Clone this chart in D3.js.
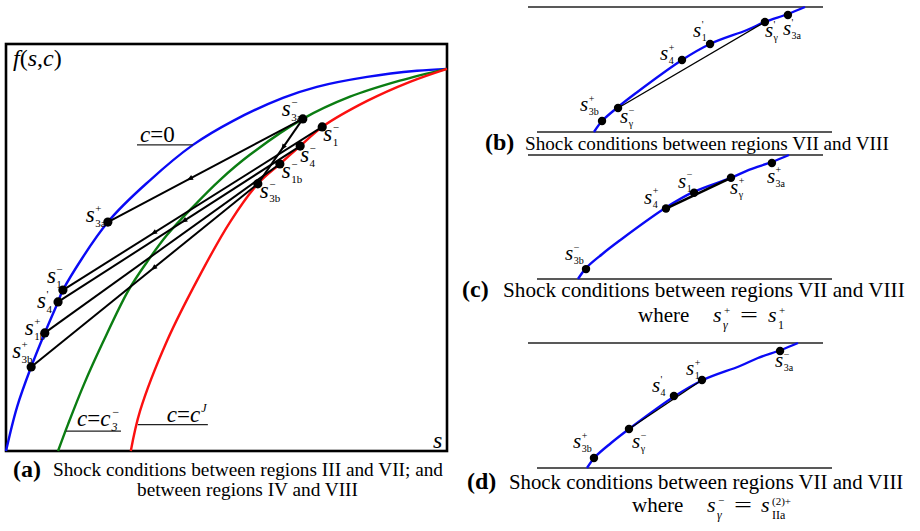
<!DOCTYPE html>
<html><head><meta charset="utf-8">
<script src="https://cdn.jsdelivr.net/npm/d3@7"></script>
<style>body{margin:0;background:#fff}svg{display:block}</style>
</head><body>
<svg id="c" width="920" height="531"></svg>
<script>
// ---------------- DATA ----------------
// Panel (a): fractional-flow curves f(s,c), s and f normalised to [0,1]
const curveC0 = [[0,0],[0.025,0.115],[0.057,0.220],[0.088,0.309],[0.118,0.390],[0.129,0.421],[0.231,0.599],[0.327,0.709],[0.424,0.801],[0.515,0.864],[0.628,0.924],[0.705,0.953],[0.819,0.979],[0.932,0.995],[1,1]];
const curveC3 = [[0.118,0],[0.141,0.071],[0.177,0.175],[0.220,0.285],[0.277,0.419],[0.320,0.495],[0.365,0.565],[0.424,0.639],[0.485,0.709],[0.553,0.775],[0.673,0.869],[0.780,0.927],[0.893,0.969],[1,1]];
const curveCJ = [[0.283,0],[0.304,0.105],[0.365,0.288],[0.440,0.461],[0.508,0.599],[0.571,0.699],[0.621,0.751],[0.667,0.798],[0.717,0.848],[0.819,0.916],[0.916,0.966],[1,1]];

// points of panel (a): id, superscript, subscript, s, f
const pointsA = [
  {id:"3a-", sup:"\u2212", sub:"3a", s:0.673, f:0.869},
  {id:"1-r", sup:"\u2212", sub:"1",  s:0.717, f:0.848},
  {id:"4-",  sup:"\u2212", sub:"4",  s:0.667, f:0.798},
  {id:"1b-", sup:"\u2212", sub:"1b", s:0.621, f:0.751},
  {id:"3b-", sup:"\u2212", sub:"3b", s:0.571, f:0.699},
  {id:"3a+", sup:"+", sub:"3a", s:0.231, f:0.599},
  {id:"1-b", sup:"\u2212", sub:"1",  s:0.129, f:0.421},
  {id:"4'",  sup:"'", sub:"4",  s:0.118, f:0.390},
  {id:"1b+", sup:"+", sub:"1b", s:0.088, f:0.309},
  {id:"3b+", sup:"+", sub:"3b", s:0.057, f:0.220}
];
// shock chords of panel (a): from, to, arrow position along chord (null = none)
const chordsA = [
  ["3a-","3a+",0.58],["1-r","1-b",0.65],["4-","4'",0.48],["1b-","1b+",null],["3b-","3b+",0.46],["3a-","3b-",0.44]
];
const curveLabels = [
  {text:["c","=","0"], sub:null, sup:null, at:[0.424,0.801]},
  {text:["c","=","c"], sub:"3", sup:"\u2212", at:[0.136,0.052]},
  {text:["c","=","c"], sub:null, sup:"J", at:[0.299,0.069]}
];

// Panels (b)-(d): magnified part of the c=0 curve (normalised local coordinates)
const zoomArc = [[0,0],[0.038,0.088],[0.114,0.200],[0.199,0.312],[0.417,0.576],[0.550,0.704],[0.725,0.816],[0.810,0.880],[0.919,0.944],[1,1]];
const pointsB = [
  {id:"3b+", sup:"+", sub:"3b", s:0.038, f:0.088},
  {id:"g-",  sup:"\u2212", sub:"\u03b3", s:0.114, f:0.192},
  {id:"4+",  sup:"+", sub:"4",  s:0.417, f:0.576},
  {id:"1'",  sup:"'", sub:"1",  s:0.550, f:0.704},
  {id:"g'",  sup:"'", sub:"\u03b3", s:0.810, f:0.880},
  {id:"3a'", sup:"'", sub:"3a", s:0.919, f:0.936}
];
const pointsC = [
  {id:"3b-", sup:"\u2212", sub:"3b", s:0.038, f:0.080},
  {id:"4+",  sup:"+", sub:"4",  s:0.417, f:0.568},
  {id:"1-",  sup:"\u2212", sub:"1",  s:0.550, f:0.696},
  {id:"g+",  sup:"+", sub:"\u03b3", s:0.725, f:0.816},
  {id:"3a+", sup:"+", sub:"3a", s:0.919, f:0.936}
];
const pointsD = [
  {id:"3b+", sup:"+", sub:"3b", s:0.033, f:0.080},
  {id:"g-",  sup:"\u2212", sub:"\u03b3", s:0.199, f:0.312},
  {id:"4'",  sup:"'", sub:"4",  s:0.412, f:0.576},
  {id:"1+",  sup:"+", sub:"1",  s:0.545, f:0.704},
  {id:"3a-", sup:"\u2212", sub:"3a", s:0.915, f:0.936}
];
const chordB = ["g-","g'"];
const chordC = ["4+","g+"];
const chordD = ["g-","1+"];

const captionA = ["Shock conditions between regions III and VII; and", "between regions IV and VIII"];
const captionBCD = "Shock conditions between regions VII and VIII";

// ---------------- LAYOUT / STYLE ----------------
const FONT = "'Liberation Serif','Times New Roman',serif";
const BLUE = "#0a0af5", GREEN = "#0b7d12", RED = "#fb1010";
const svg = d3.select("#c");

function rich(g, x, y, pieces) {
  let cx = x, stackW = 0;
  pieces.forEach(p => {
    if (p.at !== undefined) cx = p.at;
    if (p.dx) cx += p.dx;
    const t = g.append("text").attr("x", cx).attr("y", y + (p.shift || 0))
      .style("font-family", FONT).style("font-size", p.fs + "px")
      .style("font-style", p.it ? "italic" : "normal")
      .style("font-weight", p.b ? "bold" : "normal")
      .attr("fill", "#000").text(p.t);
    if (p.len) t.attr("textLength", p.len).attr("lengthAdjust", "spacingAndGlyphs");
    const w = t.node().getComputedTextLength();
    if (p.stack) stackW = Math.max(stackW, w);
    else { cx += Math.max(w, stackW); stackW = 0; }
  });
}
function pointLabel(g, x, y, p, fs) {
  const sc = Math.round(fs * 0.46);
  rich(g, x, y, [
    {t:"s", it:true, fs:fs},
    {t:p.sup, fs:sc, shift:-fs*0.45, stack:true, dx:0.5},
    {t:p.sub, fs:sc, shift:fs*0.2}
  ]);
}
const smooth = d3.curveCatmullRom.alpha(0.5);

// ---------------- PANEL (a) ----------------
const gA = svg.append("g");
const xA = d3.scaleLinear().domain([0,1]).range([6,447]);
const yA = d3.scaleLinear().domain([0,1.065]).range([451,44]);
const lineA = d3.line().x(d => xA(d[0])).y(d => yA(d[1])).curve(smooth);

gA.append("rect").attr("x", xA(0)).attr("y", yA(1.065))
  .attr("width", xA(1) - xA(0)).attr("height", yA(0) - yA(1.065))
  .attr("fill","none").attr("stroke","#000").attr("stroke-width",2.6);

[[curveC0, BLUE],[curveC3, GREEN],[curveCJ, RED]].forEach(([c, col]) => {
  gA.append("path").datum(c).attr("d", lineA).attr("fill","none")
    .attr("stroke", col).attr("stroke-width", 2.4);
});

// curve labels with underline leader
const labelLayout = [
  {dir:-1, len:56, tx:3, ty:-3},
  {dir:1, len:55, tx:11, ty:-5},
  {dir:1, len:70, tx:29, ty:-2.5}
];
curveLabels.forEach((L, i) => {
  const lay = labelLayout[i];
  const ax = xA(L.at[0]), ay = yA(L.at[1]);
  const x1 = ax + lay.dir * lay.len;
  gA.append("line").attr("x1", ax).attr("x2", x1).attr("y1", ay).attr("y2", ay)
    .attr("stroke","#222").attr("stroke-width",1.3);
  const left = Math.min(ax, x1);
  const pcs = [
    {t:L.text[0], it:true, fs:23},
    {t:L.text[1], fs:23},
    {t:L.text[2], it:L.text[2] !== "0", fs:23}
  ];
  if (L.sup) pcs.push({t:L.sup, it:true, fs:12, shift:-10, stack: !!L.sub, dx:1});
  if (L.sub) pcs.push({t:L.sub, it:true, fs:12, shift:5});
  rich(gA, left + lay.tx, ay + lay.ty, pcs);
});

const byIdA = Object.fromEntries(pointsA.map(p => [p.id, p]));
chordsA.forEach(([a, b, t]) => {
  const p = byIdA[a], q = byIdA[b];
  const x1 = xA(p.s), y1 = yA(p.f), x2 = xA(q.s), y2 = yA(q.f);
  gA.append("line").attr("x1",x1).attr("y1",y1).attr("x2",x2).attr("y2",y2)
    .attr("stroke","#000").attr("stroke-width",2);
  if (t !== null) {
    const mx = x1 + (x2 - x1) * t, my = y1 + (y2 - y1) * t;
    const ang = Math.atan2(y2 - y1, x2 - x1) * 180 / Math.PI;
    gA.append("path").attr("d","M3,0 L-3,-2.6 L-3,2.6 Z")
      .attr("transform",`translate(${mx},${my}) rotate(${ang})`).attr("fill","#000");
  }
});
const labelOffA = {"3a-":[-21,-3],"1-r":[1,14],"4-":[0,16],"1b-":[2,14],"3b-":[2,14],
  "3a+":[-22,0],"1-b":[-16,-7],"4'":[-21,6],"1b+":[-20,2],"3b+":[-19,-9]};
pointsA.forEach(p => {
  const o = labelOffA[p.id];
  pointLabel(gA, xA(p.s) + o[0], yA(p.f) + o[1], p, 23);
});
pointsA.forEach(p => {
  gA.append("circle").attr("cx", xA(p.s)).attr("cy", yA(p.f)).attr("r", 4.6).attr("fill","#000");
});

rich(gA, 13, 66, [{t:"f", it:true, fs:24},{t:"(", fs:24},{t:"s", it:true, fs:24},{t:",", fs:24},{t:"c", it:true, fs:24},{t:")", fs:24}]);
rich(gA, 433, 448, [{t:"s", it:true, fs:24}]);

// caption (a)
rich(gA, 13, 477, [{t:"(a)", b:true, fs:24}]);
rich(gA, 53, 476, [{t:captionA[0], fs:19.3}]);
rich(gA, 137, 496, [{t:captionA[1], fs:19.3}]);

// ---------------- PANELS (b)-(d) ----------------
const panels = [
  {key:"b", top:7, bottom:132, x0:594, pts:pointsB, chord:chordB, cw:1.4,
   off:{"3b+":[-22,-10],"g-":[2,15],"4+":[-22,0],"1'":[-17,-7],"g'":[0,15],"3a'":[-5,20]}},
  {key:"c", top:155, bottom:279, x0:578, pts:pointsC, chord:chordC, cw:2.6,
   off:{"3b-":[-21,-9],"4+":[-22,-5],"1-":[-16,-5],"g+":[-1,16],"3a+":[-5,20]}},
  {key:"d", top:343, bottom:468, x0:587, pts:pointsD, chord:chordD, cw:1.3,
   off:{"3b+":[-21,-10],"g-":[3,19],"4'":[-22,-4],"1+":[-16,-5],"3a-":[-5,16]}}
];
panels.forEach(P => {
  const g = svg.append("g");
  const xZ = d3.scaleLinear().domain([0,1]).range([P.x0, P.x0 + 211]);
  const yZ = d3.scaleLinear().domain([0,1]).range([P.bottom, P.top]);
  g.append("line").attr("x1",528).attr("x2",823).attr("y1",P.top).attr("y2",P.top)
    .attr("stroke","#222").attr("stroke-width",1.5);
  g.append("line").attr("x1",537).attr("x2",832).attr("y1",P.bottom).attr("y2",P.bottom)
    .attr("stroke","#222").attr("stroke-width",1.5);
  const ln = d3.line().x(d => xZ(d[0])).y(d => yZ(d[1])).curve(smooth);
  g.append("path").datum(zoomArc).attr("d", ln).attr("fill","none")
    .attr("stroke", BLUE).attr("stroke-width", 2.4);
  const by = Object.fromEntries(P.pts.map(p => [p.id, p]));
  const a = by[P.chord[0]], b = by[P.chord[1]];
  g.append("line").attr("x1",xZ(a.s)).attr("y1",yZ(a.f)).attr("x2",xZ(b.s)).attr("y2",yZ(b.f))
    .attr("stroke","#000").attr("stroke-width",P.cw);
  P.pts.forEach(p => {
    const o = P.off[p.id];
    pointLabel(g, xZ(p.s) + o[0], yZ(p.f) + o[1], p, 21);
  });
  P.pts.forEach(p => {
    g.append("circle").attr("cx", xZ(p.s)).attr("cy", yZ(p.f)).attr("r", 4.2).attr("fill","#000");
  });
});

// captions (b)-(d)
rich(svg, 485, 150, [{t:"(b)", b:true, fs:24}]);
rich(svg, 525, 150, [{t:captionBCD, fs:19.2}]);
rich(svg, 462, 297, [{t:"(c)", b:true, fs:24}]);
rich(svg, 503, 297, [{t:captionBCD, fs:21.2}]);
rich(svg, 638, 322, [
  {t:"where", fs:21},
  {t:"s", it:true, fs:22, at:713},
  {t:"+", fs:11, shift:-8, at:724},
  {t:"\u03b3", it:true, fs:12, shift:7, at:723},
  {t:"=", fs:20, len:18, at:740},
  {t:"s", it:true, fs:22, at:768},
  {t:"+", fs:11, shift:-8, at:779},
  {t:"1", fs:12, shift:7, at:778}
]);
rich(svg, 467, 489, [{t:"(d)", b:true, fs:24}]);
rich(svg, 509, 489, [{t:captionBCD, fs:20.8}]);
rich(svg, 632, 512, [
  {t:"where", fs:21},
  {t:"s", it:true, fs:22, at:707},
  {t:"\u2212", fs:11, shift:-8, at:718},
  {t:"\u03b3", it:true, fs:12, shift:7, at:717},
  {t:"=", fs:20, len:18, at:734},
  {t:"s", it:true, fs:22, at:761},
  {t:"(2)+", fs:11, shift:-7, at:772},
  {t:"IIa", fs:12, shift:7, at:772}
]);
</script>
</body></html>
